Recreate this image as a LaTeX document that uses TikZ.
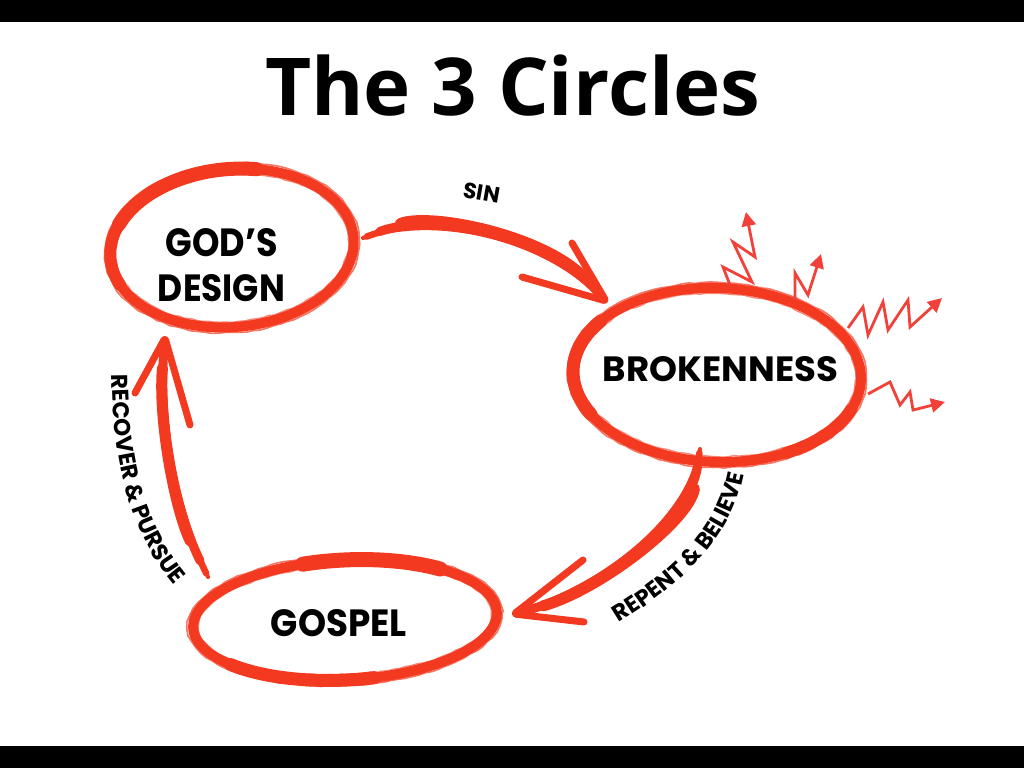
\documentclass[tikz,border=0pt]{standalone}
\usepackage{fontspec}
\usepackage{graphicx}
\usetikzlibrary{arrows.meta,decorations.text,decorations.pathmorphing,shapes.geometric}
\newfontfamily\lblfont{Poppins}
\newfontfamily\ttlfont{Open Sans}
\definecolor{brushred}{RGB}{243,58,32}
\definecolor{zigred}{RGB}{240,66,58}
\pgfmathsetseed{7}
\newcommand\BrushEll[5]{% cx cy rx ry angle
  \begin{scope}[rotate around={#5:(#1,#2)}]
    \draw[brushline, line width=10pt] (#1,#2) ellipse[x radius=#3, y radius=#4];
    \draw[brushline, line width=1.6pt, opacity=.7, decorate, decoration={random steps,segment length=7pt,amplitude=.7pt}] (#1,#2) ellipse[x radius=#3+5.5, y radius=#4+5.5];
    \draw[brushline, line width=1.4pt, opacity=.6, decorate, decoration={random steps,segment length=6pt,amplitude=.7pt}] (#1,#2) ellipse[x radius=#3-5.5, y radius=#4-5.5];
  \end{scope}}
\newcommand\Taper[4]{% start, c1, c2, end
  \draw[shaft, line width=4pt] (#1) .. controls #2 and #3 .. (#4);
  \draw[shaft, line width=6.5pt, shorten <=4pt, shorten >=4pt] (#1) .. controls #2 and #3 .. (#4);
  \draw[shaft, line width=9pt, shorten <=18pt, shorten >=14pt] (#1) .. controls #2 and #3 .. (#4);
  \draw[shaft, line width=11pt, shorten <=40pt, shorten >=30pt] (#1) .. controls #2 and #3 .. (#4);}
\begin{document}
\begin{tikzpicture}[x=1pt,y=-1pt,
  brushline/.style={draw=brushred, line cap=round, line join=round},
  shaft/.style={draw=brushred, line cap=round},
  barb/.style={draw=brushred, line cap=round},
  zigline/.style={draw=zigred, line width=2.8pt, line join=miter, -{Triangle[length=14pt,width=14pt]}},
  lbl/.style={inner sep=0pt, text=black},
  small/.style={inner sep=0pt, text=black, font=\lblfont\bfseries\fontsize{22}{26}\selectfont}]
\useasboundingbox (0,0) rectangle (1024,768);
\fill[white] (0,0) rectangle (1024,768);
\fill[black] (0,0) rectangle (1024,22);
\fill[black] (0,746) rectangle (1024,768);

% title
\node[anchor=base west, inner sep=0pt] (title) at (265,115) {\resizebox{495pt}{!}{\ttlfont\bfseries The 3 Circles}};

% ellipses
\BrushEll{232}{248}{122}{79}{5}
\begin{scope}[rotate around={5:(232,248)}]
  \draw[brushline, line width=14pt] ([shift={(205:122 and 79)}]232,248) arc[start angle=205, end angle=285, x radius=122, y radius=79];
  \draw[brushline, line width=12pt] ([shift={(160:122 and 79)}]232,248) arc[start angle=160, end angle=205, x radius=122, y radius=79];
\end{scope}
\BrushEll{717}{375}{144}{87}{-2}
\begin{scope}[rotate around={-2:(717,375)}]
  \draw[brushline, line width=13pt] ([shift={(150:144 and 87)}]717,375) arc[start angle=150, end angle=215, x radius=144, y radius=87];
  \draw[brushline, line width=12pt] ([shift={(20:144 and 87)}]717,375) arc[start angle=20, end angle=60, x radius=144, y radius=87];
\end{scope}
\BrushEll{345}{620}{152}{60}{3}
\begin{scope}[rotate around={3:(345,620)}]
  \draw[brushline, line width=15pt] ([shift={(255:152 and 60)}]345,620) arc[start angle=255, end angle=310, x radius=152, y radius=60];
  \draw[brushline, line width=13pt] ([shift={(80:152 and 60)}]345,620) arc[start angle=80, end angle=140, x radius=152, y radius=60];
\end{scope}

% labels
\node[lbl] (gd1) at (221.5,243) {\resizebox{112pt}{28pt}{\lblfont\bfseries GOD’S}};
\node[lbl] (gd2) at (221.5,288.5) {\resizebox{127pt}{27pt}{\lblfont\bfseries DESIGN}};
\node[lbl] (br) at (720.5,369.5) {\resizebox{235pt}{25pt}{\lblfont\bfseries BROKENNESS}};
\node[lbl] (gs) at (339,623.5) {\resizebox{136pt}{27pt}{\lblfont\bfseries GOSPEL}};

% SIN arrow
\coordinate (s1) at (363,238);
\coordinate (t1) at (606,301);
\coordinate (b1a) at (572,243);
\coordinate (b1b) at (522,277);
\Taper{s1}{(430,212)}{(545,235)}{t1}
\draw[barb, line width=7pt, shorten >=2pt] (b1a) -- (t1);
\draw[barb, line width=7pt, shorten >=2pt] (b1b) -- (t1);
\node[small, rotate=-10] (sin) at (482,193) {SIN};

% REPENT arrow
\coordinate (s2) at (700,449);
\coordinate (t2) at (514,614);
\coordinate (b2a) at (583,560);
\coordinate (b2b) at (584,622);
\Taper{s2}{(690,520)}{(600,590)}{t2}
\draw[barb, line width=7pt, shorten >=2pt] (b2a) -- (t2);
\draw[barb, line width=7pt, shorten >=2pt] (b2b) -- (t2);
\path[decorate, decoration={text along path, text align=center,
  text={|\lblfont\bfseries\fontsize{23}{26}\selectfont|REPENT {\&} BELIEVE}}]
  (612,627) .. controls (675,590) and (735,540) .. (745,466);

% RECOVER arrow
\coordinate (s3) at (208,577);
\coordinate (t3) at (165,338);
\coordinate (b3a) at (135,393);
\coordinate (b3b) at (190,425);
\Taper{s3}{(175,510)}{(158,420)}{t3}
\draw[barb, line width=7pt, shorten >=2pt] (b3a) -- (t3);
\draw[barb, line width=7pt, shorten >=2pt] (b3b) -- (t3);
\path[decorate, decoration={text along path, text align=center,
  text={|\lblfont\bfseries\fontsize{23}{26}\selectfont|RECOVER {\&} PURSUE}}]
  (112,366) .. controls (111,445) and (125,532) .. (180,592);

% zigzag arrows out of brokenness
\coordinate (z1) at (730,285);
\coordinate (z2) at (795,300);
\coordinate (z3) at (848,328);
\coordinate (z4) at (868,394);
\draw[zigline] (z1) -- (723,267) -- (752,282) -- (733,242) -- (755,257) -- (746,212);
\draw[zigline] (z2) -- (795,273) -- (808,295) -- (821,254);
\draw[zigline] (z3) -- (863,307) -- (868,335) -- (883,302) -- (888,330) -- (908,300) -- (910,327) -- (942,298);
\draw[zigline] (z4) -- (890,382) -- (900,405) -- (910,392) -- (913,410) -- (945,402);
\end{tikzpicture}
\end{document}
